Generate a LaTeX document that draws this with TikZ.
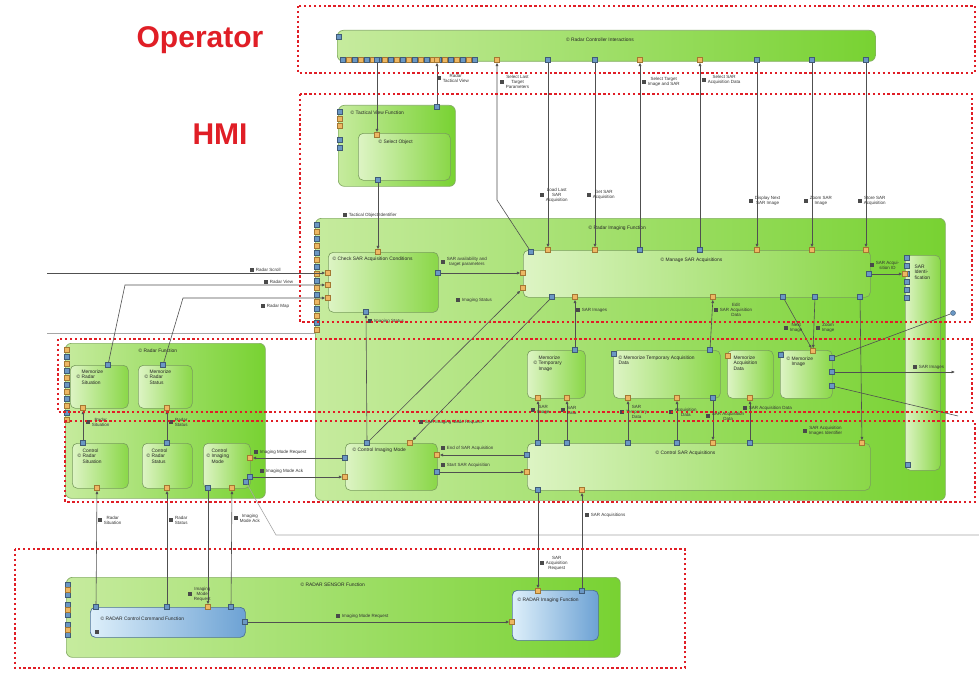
\documentclass[tikz,border=0pt]{standalone}
\usepackage{fontspec}
\setmainfont{Liberation Sans}
\usetikzlibrary{arrows.meta}
\definecolor{gA}{HTML}{C6EB9E}
\definecolor{gB}{HTML}{78D232}
\definecolor{iA}{HTML}{DDF4C4}
\definecolor{iB}{HTML}{8AD748}
\definecolor{bdr}{HTML}{86AE66}
\definecolor{bA}{HTML}{DDEFFA}
\definecolor{bB}{HTML}{6DA2D4}
\definecolor{redd}{HTML}{E01E26}
\definecolor{portB}{HTML}{6A97C4}
\definecolor{portO}{HTML}{EAAA48}
\definecolor{lin}{HTML}{505050}
\definecolor{icon}{HTML}{4A4A4A}
\newcommand\mkbox[6]{\node[#6, anchor=north west, minimum width=#4pt, minimum height=#5pt, inner sep=0pt] (#1) at (#2,#3) {};}
\newcommand\mklab[4]{\node[icon] (#1i) at (#2,#3) {}; \node[lbl, anchor=west, align=center] (#1) at ([xshift=0.8pt]#1i.east) {#4};}
\newcommand\portb[3]{\node[pB] (#1) at (#2,#3) {};}
\newcommand\porto[3]{\node[pO] (#1) at (#2,#3) {};}
\begin{document}
\begin{tikzpicture}[x={(1pt,0)}, y={(0,-1pt)},
 outer/.style={draw=bdr, line width=0.7pt, rounded corners=6pt, left color=gA, right color=gB},
 inner/.style={draw=bdr!90!black, line width=0.6pt, rounded corners=5pt, left color=iA, right color=iB},
 bluebox/.style={draw=bB!70!black, line width=0.7pt, rounded corners=5pt, left color=bA, right color=bB},
 reddot/.style={draw=redd, line width=2.3pt, dash pattern=on 2.3pt off 2.6pt},
 conn/.style={draw=lin, line width=0.6pt},
 arr/.style={conn, -{Latex[length=3.4pt,width=3pt]}},
 gry/.style={draw=black!35, line width=0.6pt},
 pB/.style={draw=portB!60!black, fill=portB, minimum size=5pt, inner sep=0pt, line width=0.3pt},
 pO/.style={draw=portO!70!black, fill=portO!85!white, minimum size=5pt, inner sep=0pt, line width=0.3pt},
 lbl/.style={font=\fontsize{4.5}{5}\selectfont, text=black!80, inner sep=0.4pt},
 ttl/.style={font=\fontsize{4.9}{5.6}\selectfont, text=black!85, inner sep=0.4pt, align=left},
 icon/.style={fill=icon, minimum width=4.6pt, minimum height=3.6pt, inner sep=0pt},
 bigred/.style={font=\fontsize{30}{32}\selectfont\bfseries, text=redd, inner sep=0pt}]
\useasboundingbox (0,0) rectangle (979,674);
\fill[white] (0,0) rectangle (979,674);

% separators
\draw[gry] (47,333) -- (318,333);

% ---------- boxes ----------
\mkbox{rci}{337}{30}{538}{31}{outer}
\mkbox{tvf}{338}{105}{117}{81}{outer}
\mkbox{sel}{358}{133}{92}{47}{inner}
\mkbox{rif}{315}{218}{630}{282}{outer}
\mkbox{chk}{328}{252}{110}{60}{inner}
\mkbox{mng}{523}{250}{347}{47}{inner}
\mkbox{sid}{905}{255}{35}{215}{inner}
\mkbox{mti}{527}{350}{58}{48}{inner}
\mkbox{mta}{613}{350}{107}{48}{inner}
\mkbox{mad}{727}{350}{46}{48}{inner}
\mkbox{mim}{780}{350}{52}{48}{inner}
\mkbox{rcm}{345}{443}{92}{47}{inner}
\mkbox{csa}{527}{443}{343}{47}{inner}
\mkbox{rdf}{65}{343}{200}{155}{outer}
\mkbox{mrs}{70}{365}{58}{43}{inner}
\mkbox{mrt}{138}{365}{54}{43}{inner}
\mkbox{crs}{72}{443}{56}{45}{inner}
\mkbox{crt}{142}{443}{50}{45}{inner}
\mkbox{cim}{203}{443}{47}{45}{inner}
\mkbox{rsf}{66}{577}{554}{80}{outer}
\mkbox{rcc}{90}{607}{155}{30}{bluebox}
\mkbox{rim}{512}{590}{86}{50}{bluebox}

% ---------- titles ----------
\node[ttl, anchor=north] (trci) at (600,37) {© Radar Controller Interactions};
\node[ttl, anchor=north west] (ttvf) at (350,110) {© Tactical View Function};
\node[ttl, anchor=north west] (tsel) at (378,139) {© Select Object};
\node[ttl, anchor=north west] (trif) at (588,225) {© Radar Imaging Function};
\node[ttl, anchor=north west] (tchk) at (332,256) {© Check SAR Acquisition Conditions};
\node[ttl, anchor=north west] (tmng) at (660,257) {© Manage SAR Acquisitions};
\node[ttl, anchor=north west] (tsid) at (914,264) {SAR\\Identi-\\fication};
\node[ttl, anchor=north west] (tmti) at (533,355) {\phantom{©} Memorize\\© Temporary\\\phantom{©} Image};
\node[ttl, anchor=north west] (tmta) at (618,355) {© Memorize Temporary Acquisition\\Data};
\node[ttl, anchor=north west] (tmad) at (733,355) {Memorize\\Acquisition\\Data};
\node[ttl, anchor=north west] (tmim) at (786,356) {© Memorize\\\phantom{©} Image};
\node[ttl, anchor=north west] (trcm) at (352,447) {© Control Imaging Mode};
\node[ttl, anchor=north west] (tcsa) at (655,450) {© Control SAR Acquisitions};
\node[ttl, anchor=north west] (trdf) at (138,348) {© Radar Function};
\node[ttl, anchor=north west] (tmrs) at (76,369) {\phantom{©} Memorize\\© Radar\\\phantom{©} Situation};
\node[ttl, anchor=north west] (tmrt) at (144,369) {\phantom{©} Memorize\\© Radar\\\phantom{©} Status};
\node[ttl, anchor=north west] (tcrs) at (77,448) {\phantom{©} Control\\© Radar\\\phantom{©} Situation};
\node[ttl, anchor=north west] (tcrt) at (146,448) {\phantom{©} Control\\© Radar\\\phantom{©} Status};
\node[ttl, anchor=north west] (tcim) at (206,448) {\phantom{©} Control\\© Imaging\\\phantom{©} Mode};
\node[ttl, anchor=north west] (trsf) at (300,582) {© RADAR SENSOR Function};
\node[ttl, anchor=west] (trcc) at (100,619) {© RADAR Control Command Function};
\node[ttl, anchor=north west] (trim) at (517,597) {© RADAR Imaging Function};

% ---------- port strips ----------
\foreach \x in {343,355,...,475} {\node[pB] (sa\x) at (\x,60) {};}
\foreach \x in {349,361,...,469} {\node[pO] (sb\x) at (\x,60) {};}
\foreach \y in {225,239,...,330} {\node[pB] (ra\y) at (317,\y) {};}
\foreach \y in {232,246,...,330} {\node[pO] (rb\y) at (317,\y) {};}
\foreach \y in {350,364,...,420} {\node[pO] (fa\y) at (67,\y) {};}
\foreach \y in {357,371,...,420} {\node[pB] (fb\y) at (67,\y) {};}
\foreach \y in {585,595,...,640} {\node[pB] (ka\y) at (68,\y) {};}
\foreach \y in {590,610,...,640} {\node[pO] (kb\y) at (68,\y) {};}
\foreach \y in {258,266,...,300} {\node[pB] (ia\y) at (907,\y) {};}
\portb{rcl}{339}{37}

% ---------- ports ----------
\portb{rc1}{377}{60} \porto{rc2}{437}{60} \porto{rc3}{497}{60} \portb{rc4}{548}{60}
\portb{rc5}{595}{60} \porto{rc6}{640}{60} \porto{rc7}{700}{60} \portb{rc8}{757}{60}
\portb{rc9}{812}{60} \portb{rc10}{866}{60}
\portb{tv1}{437}{107}
\portb{tvl1}{340}{112} \porto{tvl2}{340}{119} \porto{tvl3}{340}{126} \portb{tvl4}{340}{140} \portb{tvl5}{340}{148}
\porto{so1}{377}{135} \portb{so2}{378}{180}
\porto{cs1}{378}{252} \porto{cs2}{328}{273} \porto{cs3}{328}{285} \porto{cs4}{328}{298}
\portb{cs5}{438}{273} \portb{cs6}{366}{312}
\portb{ms0}{531}{252} \porto{ms1}{548}{250} \porto{ms2}{595}{250} \portb{ms3}{640}{250}
\portb{ms4}{700}{250} \porto{ms5}{757}{250} \porto{ms6}{812}{250} \porto{ms7}{866}{250}
\portb{msr}{869}{274} \porto{ms8}{523}{273} \porto{ms9}{523}{288}
\portb{ms10}{552}{297} \porto{mb1}{575}{297} \porto{mb2}{713}{297}
\portb{mb3}{783}{297} \portb{mb4}{815}{297} \portb{mb5}{860}{297}
\porto{sidl}{905}{274} \portb{sidb}{908}{465}
\portb{mtit}{575}{350} \portb{mtat}{710}{350} \portb{mtal}{614}{354} \porto{madl}{728}{356}
\porto{mimt}{813}{351} \portb{miml}{781}{355}
\portb{mr1}{832}{358} \portb{mr2}{832}{372} \portb{mr3}{832}{386}
\porto{mtib1}{538}{398} \porto{mtib2}{567}{398}
\porto{mtab1}{628}{398} \porto{mtab2}{677}{398} \portb{mtab3}{713}{398} \porto{madb1}{750}{398}
\portb{cst1}{538}{443} \portb{cst2}{567}{443} \portb{cst3}{628}{443} \portb{cst4}{677}{443}
\porto{cst5}{713}{443} \portb{cst6}{750}{443} \porto{cst7}{862}{443}
\portb{ct1}{367}{443} \porto{ct2}{410}{443} \portb{cl1}{345}{458} \porto{cl2}{345}{477}
\porto{crr1}{437}{455} \portb{crr2}{437}{472}
\portb{csl1}{527}{455} \porto{csl2}{527}{472} \portb{csb1}{538}{490} \porto{csb2}{582}{490}
\portb{mrs1}{108}{365} \porto{mrs2}{83}{408} \portb{mrt1}{163}{365} \porto{mrt2}{167}{408}
\portb{crs1}{83}{443} \porto{crs2}{97}{488} \portb{crt1}{167}{443} \porto{crt2}{167}{488}
\porto{cmr1}{250}{458} \portb{cmr2}{250}{477}
\portb{cb1}{208}{488} \porto{cb2}{232}{488} \portb{cb3}{246}{482}
\portb{rcc1}{96}{607} \portb{rcc2}{167}{607} \porto{rcc3}{208}{607} \portb{rcc4}{231}{607}
\portb{rcc5}{245}{622}
\porto{ri1}{538}{591} \portb{ri2}{582}{591} \porto{ri3}{512}{622}
\node[icon] (rccic) at (97,632) {};
\node[circle, draw=portB!60!black, fill=portB, minimum size=5pt, inner sep=0pt] (o1) at (953,313) {};

% ---------- connectors ----------
\draw[arr] (rc1) -- (so1);
\draw[arr] (tv1) -- (rc2);
\coordinate (k3) at (497,200);
\draw[arr] (ms0) -- (k3) -- (rc3);
\draw[arr] (rc4) -- (ms1);
\draw[arr] (rc5) -- (ms2);
\draw[arr] (ms3) -- (rc6);
\draw[arr] (ms4) -- (rc7);
\draw[arr] (rc8) -- (ms5);
\draw[arr] (rc9) -- (ms6);
\draw[arr] (rc10) -- (ms7);
\draw[arr] (so2) -- (cs1);
\draw[arr] (cs5) -- (ms8);
\coordinate (e1) at (47,273);
\draw[arr] (e1) -- (cs2);
\coordinate (b2) at (125,285);
\draw[arr] (mrs1) -- (b2) -- (cs3);
\coordinate (b3) at (183,298);
\draw[arr] (mrt1) -- (b3) -- (cs4);
\draw[arr] (ct1) -- (cs6);
\draw[arr] (ct1) -- (ms9);
\draw[arr] (ms10) -- (ct2);
\draw[arr] (mtit) -- (mb1);
\draw[arr] (mtat) -- (mb2);
\draw[arr] (mb3) -- (mimt);
\draw[arr] (mb4) -- (mimt);
\draw[arr] (mb5) -- (cst7);
\draw[arr] (msr) -- (sidl);
\draw[conn] (mr1) -- (o1);
\coordinate (o2) at (955,372);
\draw[arr] (mr2) -- (o2);
\coordinate (o3) at (958,416);
\draw[conn] (mr3) -- (o3);
\draw[arr] (cst1) -- (mtib1);
\draw[arr] (cst2) -- (mtib2);
\draw[arr] (cst3) -- (mtab1);
\draw[arr] (cst4) -- (mtab2);
\draw[arr] (mtab3) -- (cst5);
\draw[arr] (cst6) -- (madb1);
\draw[arr] (csl1) -- (crr1);
\draw[arr] (crr2) -- (csl2);
\draw[arr] (cl1) -- (cmr1);
\draw[arr] (cmr2) -- (cl2);
\draw[arr] (crs1) -- (mrs2);
\draw[arr] (crt1) -- (mrt2);
\draw[arr] (rcc1) -- (crs2);
\draw[arr] (rcc2) -- (crt2);
\draw[arr] (cb1) -- (rcc3);
\draw[arr] (rcc4) -- (cb2);
\coordinate (g1) at (256,500); \coordinate (g2) at (276,535); \coordinate (g3) at (979,535);
\draw[gry] (cb3) -- (g1) -- (g2) -- (g3);
\draw[arr] (csb1) -- (ri1);
\draw[arr] (ri2) -- (csb2);
\draw[arr] (rcc5) -- (ri3);

% ---------- labels ----------
\mklab{l1}{439}{78}{Radar\\Tactical View}
\mklab{l2}{502}{82}{Select Last\\Target\\Parameters}
\mklab{l3}{644}{82}{Select Target\\Image and SAR}
\mklab{l4}{704}{80}{Select SAR\\Acquisition Data}
\mklab{l5}{542}{195}{Load Last\\SAR\\Acquisition}
\mklab{l6}{589}{195}{Get SAR\\Acquisition}
\mklab{l7}{751}{201}{Display Next\\SAR Image}
\mklab{l8}{806}{201}{Zoom SAR\\Image}
\mklab{l9}{860}{201}{Store SAR\\Acquisition}
\mklab{l10}{345}{215}{Tactical Object Identifier}
\mklab{l11}{443}{262}{SAR availability and\\target parameters}
\mklab{l12}{252}{270}{Radar Scroll}
\mklab{l13}{266}{282}{Radar View}
\mklab{l14}{263}{306}{Radar Map}
\mklab{l15}{458}{300}{Imaging Status}
\mklab{l16}{370}{321}{Imaging Status}
\mklab{l17}{578}{310}{SAR Images}
\mklab{l18}{716}{310}{Edit\\SAR Acquisition\\Data}
\mklab{l19}{786}{328}{Next\\Image}
\mklab{l20}{818}{328}{Zoom\\Image}
\mklab{l21}{872}{265}{SAR Acqui-\\sition ID}
\mklab{l22}{915}{367}{SAR Images}
\mklab{l23}{421}{422}{SAR Imaging Mode Request}
\mklab{l24}{533}{410}{SAR\\Image}
\mklab{l25}{563}{410}{SAR\\Data}
\mklab{l26}{622}{412}{SAR\\Temporary\\Data}
\mklab{l27}{671}{412}{Acquisition\\Data}
\mklab{l28}{708}{416}{SAR Acquisition\\Data}
\mklab{l29}{745}{408}{SAR Acquisition Data}
\mklab{l30}{805}{431}{SAR Acquisition\\Images Identifier}
\mklab{l31}{443}{448}{End of SAR Acquisition}
\mklab{l32}{443}{465}{Start SAR Acquisition}
\mklab{l33}{256}{452}{Imaging Mode Request}
\mklab{l34}{262}{471}{Imaging Mode Ack}
\mklab{l35}{88}{422}{Radar\\Situation}
\mklab{l36}{171}{422}{Radar\\Status}
\mklab{l37}{100}{520}{Radar\\Situation}
\mklab{l38}{171}{520}{Radar\\Status}
\mklab{l39}{236}{518}{Imaging\\Mode Ack}
\mklab{l40}{190}{594}{Imaging\\Mode\\Request}
\mklab{l41}{542}{563}{SAR\\Acquisition\\Request}
\mklab{l42}{587}{515}{SAR Acquisitions}
\mklab{l43}{338}{616}{Imaging Mode Request}

% ---------- red dotted groups ----------
\draw[reddot] (298,6) rectangle (975,73);
\draw[reddot] (300,94) rectangle (972,322);
\draw[reddot] (58,339) rectangle (972,412);
\draw[reddot] (65,421) rectangle (975,502);
\draw[reddot] (15,549) rectangle (685,668);
\node[bigred] (op) at (200,40) {Operator};
\node[bigred] (hmi) at (220,134) {HMI};
\end{tikzpicture}
\end{document}
